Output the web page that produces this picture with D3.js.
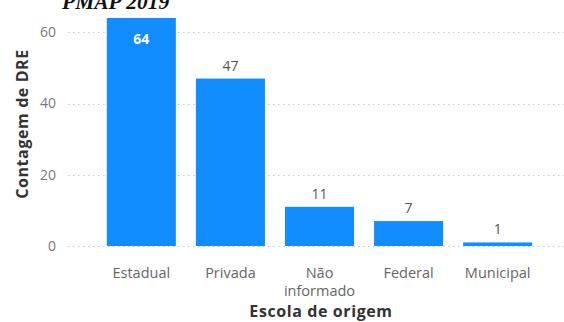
<!DOCTYPE html>
<html>
<head>
<meta charset="utf-8">
<script src="https://cdn.jsdelivr.net/npm/d3@7"></script>
<style>
  html, body { margin: 0; padding: 0; background: #fff; }
  svg { display: block; }
</style>
</head>
<body>
<svg id="chart" width="564" height="322"></svg>
<script>
// Origin school categories and DRE counts
const categories = ["Estadual", "Privada", "Não informado", "Federal", "Municipal"];
const counts = [64, 47, 11, 7, 1];
const yTicks = [0, 20, 40, 60];

const W = 564, H = 322;
const margin = { left: 97, right: 22, top: 18, bottom: 76 };

const svg = d3.select("#chart");

const x = d3.scaleBand()
  .domain(categories)
  .range([margin.left, W - margin.right])
  .paddingInner(0.225)
  .paddingOuter(0.11);

const y = d3.scaleLinear()
  .domain([0, 64])
  .range([H - margin.bottom, margin.top]);

// Title, running into the top edge
svg.append("text")
  .attr("x", 62)
  .attr("y", 9)
  .attr("font-family", "Liberation Serif, Times New Roman, serif")
  .attr("font-weight", "bold")
  .attr("font-style", "italic")
  .attr("font-size", 21.5)
  .attr("fill", "#111")
  .text("PMAP 2019");

// Dotted gridlines
const grid = svg.append("g");
grid.selectAll("line")
  .data(yTicks)
  .join("line")
  .attr("x1", 68)
  .attr("x2", W)
  .attr("y1", d => Math.round(y(d)) + 0.5)
  .attr("y2", d => Math.round(y(d)) + 0.5)
  .attr("stroke", "#c8c8c8")
  .attr("stroke-width", 1.2)
  .attr("stroke-dasharray", "1.5,3.5");

// Y axis tick labels
const yAxis = d3.axisLeft(y).tickValues(yTicks).tickSize(0).tickPadding(0);
const gy = svg.append("g")
  .attr("transform", "translate(56,0)")
  .call(yAxis);
gy.select(".domain").remove();
gy.selectAll("text")
  .attr("font-family", "Open Sans, sans-serif")
  .attr("font-size", 14)
  .attr("fill", "#777");

// Bars
svg.append("g")
  .selectAll("rect")
  .data(counts)
  .join("rect")
  .attr("x", (d, i) => x(categories[i]))
  .attr("width", x.bandwidth())
  .attr("y", d => y(d))
  .attr("height", d => y(0) - y(d))
  .attr("fill", "#118dff");

// Value labels: inside the bar when it reaches the top, otherwise above
const inside = d => y(d) <= margin.top + 20;
svg.append("g")
  .selectAll("text")
  .data(counts)
  .join("text")
  .attr("x", (d, i) => x(categories[i]) + x.bandwidth() / 2)
  .attr("y", d => inside(d) ? y(d) + 26 : y(d) - 8)
  .attr("text-anchor", "middle")
  .attr("font-family", "Open Sans, sans-serif")
  .attr("font-size", 14)
  .attr("fill", d => inside(d) ? "#fff" : "#555")
  .attr("font-weight", d => inside(d) ? "bold" : "normal")
  .text(d => d);

// X axis category labels (wrapped)
const xAxis = d3.axisBottom(x).tickSize(0).tickPadding(0);
const gx = svg.append("g")
  .attr("transform", `translate(0,${H - margin.bottom})`)
  .call(xAxis);
gx.select(".domain").remove();
gx.selectAll("text")
  .attr("font-family", "Open Sans, sans-serif")
  .attr("font-size", 14.5)
  .attr("fill", "#666")
  .attr("y", 0)
  .attr("dy", null)
  .each(function(d) {
    const t = d3.select(this);
    t.text(null);
    const words = d === "Não informado" ? ["Não", "informado"] : [d];
    words.forEach((w, k) => {
      t.append("tspan")
        .attr("x", 0)
        .attr("y", 32 + k * 18)
        .text(w);
    });
  });

// Axis titles
svg.append("text")
  .attr("transform", `translate(28,${124}) rotate(-90)`)
  .attr("text-anchor", "middle")
  .attr("font-family", "Open Sans, sans-serif")
  .attr("font-weight", "bold")
  .attr("font-size", 16)
  .attr("letter-spacing", 0.6)
  .attr("fill", "#333")
  .text("Contagem de DRE");

svg.append("text")
  .attr("x", 321)
  .attr("y", 317)
  .attr("text-anchor", "middle")
  .attr("font-family", "Open Sans, sans-serif")
  .attr("font-weight", "bold")
  .attr("font-size", 16)
  .attr("letter-spacing", 0.6)
  .attr("fill", "#333")
  .text("Escola de origem");
</script>
</body>
</html>
